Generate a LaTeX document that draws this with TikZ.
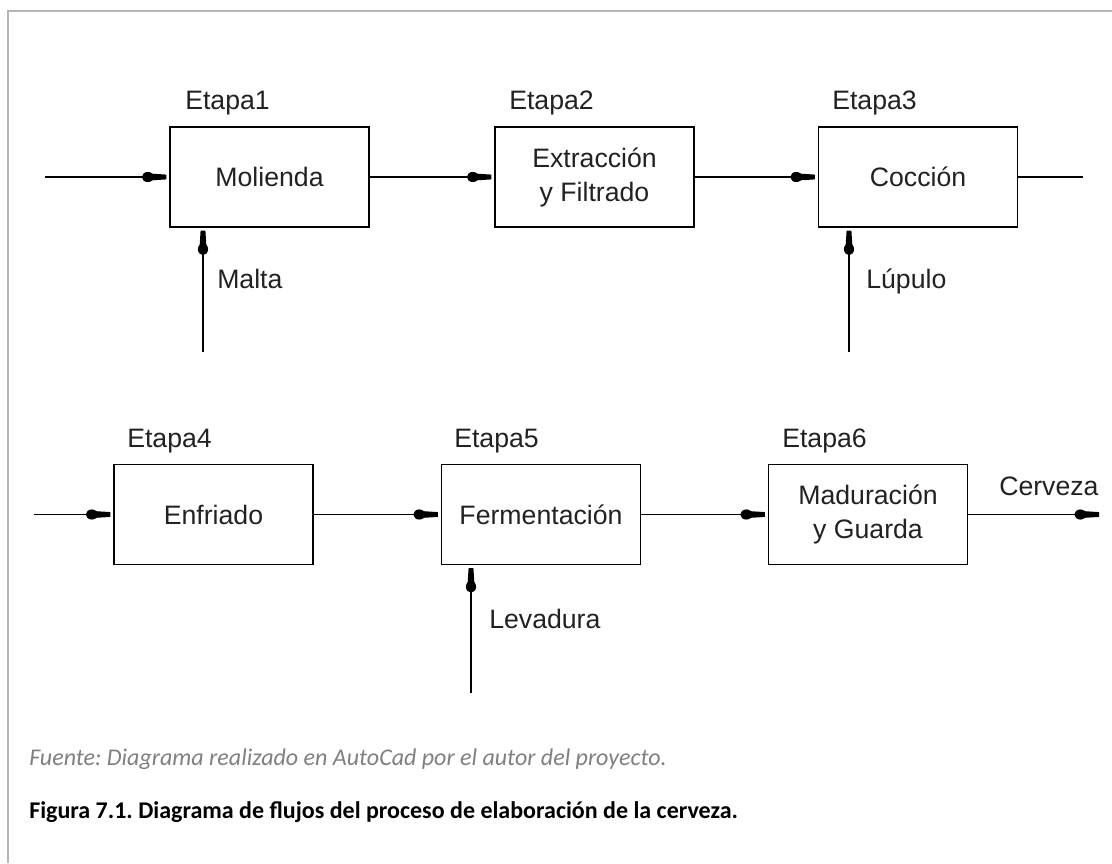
\documentclass[tikz,border=0pt]{standalone}
\usepackage{fontspec}
\setmainfont{Liberation Sans}
\newfontfamily\calibri{Carlito}
\usetikzlibrary{arrows.meta}
\frenchspacing
\definecolor{framegray}{HTML}{B4B4B4}
\definecolor{notegray}{HTML}{808080}
\definecolor{ink}{HTML}{222222}
\pgfdeclarearrow{
  name = Blob,
  parameters = {},
  setup code = {
    \pgfarrowssettipend{0pt}
    \pgfarrowssetbackend{-18.5pt}
    \pgfarrowssetvisualbackend{-18.5pt}
    \pgfarrowssetlineend{-16pt}
    \pgfarrowshullpoint{0pt}{2pt}
    \pgfarrowshullpoint{0pt}{-2pt}
    \pgfarrowshullpoint{-18.5pt}{4pt}
    \pgfarrowshullpoint{-18.5pt}{-4pt}
  },
  drawing code = {
    \pgfpathmoveto{\pgfpoint{0pt}{1.8pt}}
    \pgfpathlineto{\pgfpoint{-11pt}{2.5pt}}
    \pgfpathlineto{\pgfpoint{-11pt}{-2.5pt}}
    \pgfpathlineto{\pgfpoint{0pt}{-1.8pt}}
    \pgfpathclose
    \pgfusepathqfill
    \pgfpathellipse{\pgfpoint{-14pt}{0pt}}{\pgfpoint{4.5pt}{0pt}}{\pgfpoint{0pt}{3.8pt}}
    \pgfusepathqfill
  }
}
\tikzset{
  stagebox/.style={draw=black, line width=1.3pt, fill=white, minimum width=149.25pt,
    minimum height=75pt, inner sep=0pt, align=center, text=ink,
    font=\fontsize{20}{25.5}\selectfont},
  lbl/.style={anchor=base west, inner sep=0pt, text=ink, font=\fontsize{20}{24}\selectfont},
  flow/.style={line width=1.1pt, -{Blob}, shorten >=2pt},
  plain/.style={line width=1.1pt},
  capnote/.style={anchor=base west, inner sep=0pt, text=notegray, font=\calibri\itshape\fontsize{18}{22}\selectfont},
  capmain/.style={anchor=base west, inner sep=0pt, text=black, font=\calibri\bfseries\fontsize{18}{22}\selectfont}
}
\begin{document}
\begin{tikzpicture}[x=0.75pt, y=-0.75pt]
\useasboundingbox (0,0) rectangle (1112,863);
\fill[white] (0,0) rectangle (1112,863);
% frame
\draw[framegray, line width=1.5pt] (8,863) -- (8,11) -- (1112,11);

% boxes
\node[stagebox] (b1) at (269.5,177) {Molienda};
\node[stagebox] (b2) at (594.5,177) {Extracción\\y Filtrado};
\node[stagebox] (b3) at (918,177) {Cocción};
\node[stagebox] (b4) at (213.5,514.5) {Enfriado};
\node[stagebox] (b5) at (541,514.5) {Fermentación};
\node[stagebox] (b6) at (868,514.5) {Maduración\\y Guarda};

% stage labels
\node[lbl] (e1) at (185,110) {Etapa1};
\node[lbl] (e2) at (509,110) {Etapa2};
\node[lbl] (e3) at (832,110) {Etapa3};
\node[lbl] (e4) at (127,447) {Etapa4};
\node[lbl] (e5) at (454,447) {Etapa5};
\node[lbl] (e6) at (782,447) {Etapa6};

% input labels
\node[lbl] (lm) at (217,288) {Malta};
\node[lbl] (ll) at (866,288) {Lúpulo};
\node[lbl] (lv) at (489,628) {Levadura};
\node[lbl] (lc) at (999,495) {Cerveza};

% free ends
\coordinate (in1) at (45,177);
\coordinate (out1) at (1083,177);
\coordinate (in2) at (34,514.5);
\coordinate (out2) at (1099,514.5);
\coordinate (m1) at (203,352);
\coordinate (h1) at (849,352);
\coordinate (y1) at (471,693);

% connectors row 1
\draw[flow] (in1) -- (b1.west);
\draw[flow] (b1.east) -- (b2.west);
\draw[flow] (b2.east) -- (b3.west);
\draw[plain] (b3.east) -- (out1);
\draw[flow] (m1) -- (m1 |- b1.south);
\draw[flow] (h1) -- (h1 |- b3.south);

% connectors row 2
\draw[flow] (in2) -- (b4.west);
\draw[flow] (b4.east) -- (b5.west);
\draw[flow] (b5.east) -- (b6.west);
\draw[flow, shorten >=0pt] (b6.east) -- (out2);
\draw[flow] (y1) -- (y1 |- b5.south);

% captions
\node[capnote] (fuente) at (29,765) {Fuente: Diagrama realizado en AutoCad por el autor del proyecto.};
\node[capmain] (figura) at (29,818) {Figura 7.1. Diagrama de flujos del proceso de elaboración de la cerveza.};
\end{tikzpicture}
\end{document}
